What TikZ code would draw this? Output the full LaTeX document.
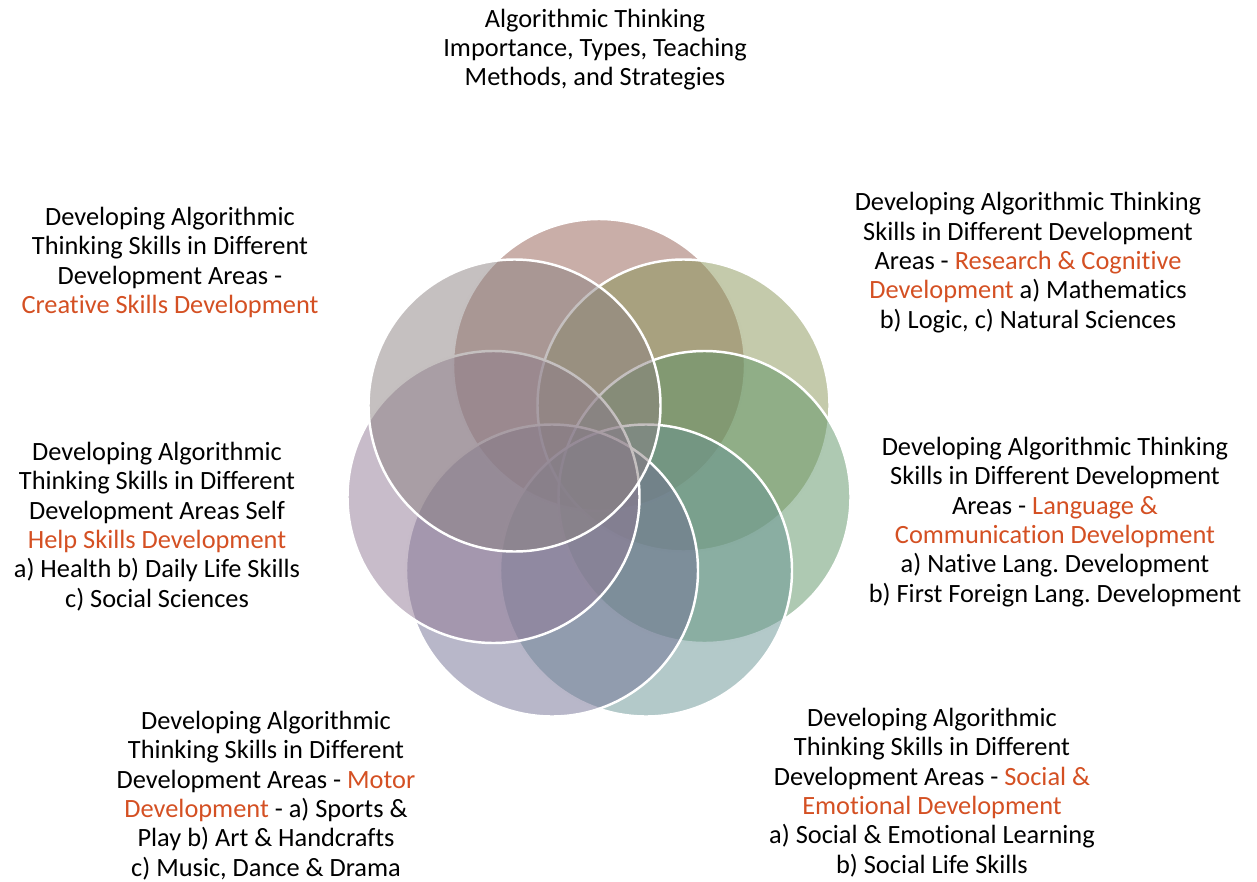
\documentclass[tikz,border=0pt]{standalone}
\usepackage{fontspec}
\setmainfont{Carlito}[Ligatures=NoCommon]
\frenchspacing

\definecolor{pbrown}{RGB}{147,93,81}
\definecolor{polive}{RGB}{137,149,87}
\definecolor{pgreen}{RGB}{93,147,101}
\definecolor{pteal}{RGB}{103,147,147}
\definecolor{pblue}{RGB}{113,111,147}
\definecolor{pmauve}{RGB}{145,121,149}
\definecolor{pgray}{RGB}{139,129,129}
\definecolor{accent}{RGB}{212,80,35}

\newcommand{\orng}[1]{\textcolor{accent}{#1}}

\begin{document}
\begin{tikzpicture}
\tikzstyle{petal} = [draw=white, line width=1.4pt, circle, inner sep=0pt, minimum size=5.84cm, fill opacity=0.5]
\tikzstyle{txt} = [align=center, font=\fontsize{15}{16.7}\selectfont]

\useasboundingbox (0,0) rectangle (25.14,-17.64);

% seven overlapping circles, clockwise from the top
\node[petal, fill=pbrown] (P1) at (11.98,-7.30) {};
\node[petal, fill=polive] (P2) at (13.67,-8.11) {};
\node[petal, fill=pgreen] (P3) at (14.09,-9.94) {};
\node[petal, fill=pteal]  (P4) at (12.92,-11.41) {};
\node[petal, fill=pblue]  (P5) at (11.04,-11.41) {};
\node[petal, fill=pmauve] (P6) at (9.87,-9.94) {};
\node[petal, fill=pgray]  (P7) at (10.29,-8.11) {};

% texts round the circles
\node[txt] (T1) at (11.90,-0.99) {Algorithmic Thinking\\Importance, Types, Teaching\\Methods, and Strategies};
\node[txt] (T2) at (20.56,-5.25) {Developing Algorithmic Thinking\\Skills in Different Development\\Areas - \orng{Research \& Cognitive}\\\orng{Development} a) Mathematics\\b) Logic, c) Natural Sciences};
\node[txt] (T3) at (21.10,-10.44) {Developing Algorithmic Thinking\\Skills in Different Development\\Areas - \orng{Language \&}\\\orng{Communication Development}\\a) Native Lang. Development\\b) First Foreign Lang. Development};
\node[txt] (T4) at (18.64,-15.85) {Developing Algorithmic\\Thinking Skills in Different\\Development Areas - \orng{Social \&}\\\orng{Emotional Development}\\a) Social \& Emotional Learning\\b) Social Life Skills};
\node[txt] (T5) at (5.32,-15.91) {Developing Algorithmic\\Thinking Skills in Different\\Development Areas - \orng{Motor}\\\orng{Development} - a) Sports \&\\Play b) Art \& Handcrafts\\c) Music, Dance \& Drama};
\node[txt] (T6) at (3.14,-10.53) {Developing Algorithmic\\Thinking Skills in Different\\Development Areas Self\\\orng{Help Skills Development}\\a) Health b) Daily Life Skills\\c) Social Sciences};
\node[txt] (T7) at (3.40,-5.25) {Developing Algorithmic\\Thinking Skills in Different\\Development Areas -\\\orng{Creative Skills Development}};
\end{tikzpicture}
\end{document}
